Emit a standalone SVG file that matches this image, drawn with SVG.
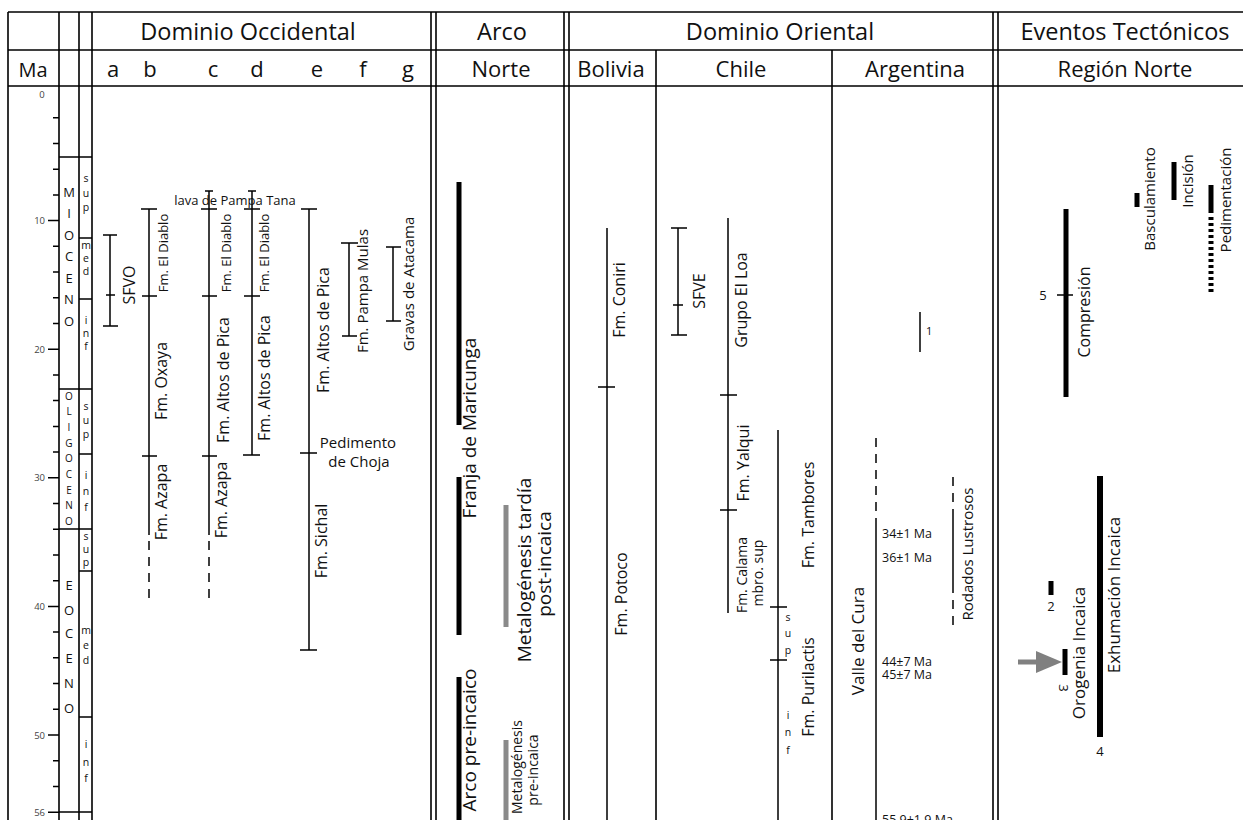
<svg xmlns="http://www.w3.org/2000/svg" width="1243" height="820" viewBox="0 0 1243 820">
<style>
text{font-family:"Open Sans","Liberation Sans",sans-serif;fill:#111}
.h{font-size:22px;text-anchor:middle}
.h1{font-size:23.5px;text-anchor:middle}
.ax{font-size:9.5px;fill:#444;text-anchor:end}
.ep{font-size:13px;text-anchor:middle}
.eps{font-size:10px;text-anchor:middle}
.se{font-size:10.5px;text-anchor:middle}
.r{text-anchor:middle}
.f16{font-size:16px}.f13{font-size:13px}.f15{font-size:15px}.f19{font-size:19px}.f17{font-size:17px}.f14{font-size:14px}.f12{font-size:12.5px}
.fr{stroke:#000;stroke-width:1.6;fill:none}
.ln{stroke:#000;stroke-width:1.5;fill:none}
.dash{stroke-dasharray:9 7}
.bar{stroke:#000;stroke-width:5;fill:none}
.gbar{stroke:#8a8a8a;stroke-width:5;fill:none}
</style>

<g id="frame">
<path class="fr" d="M8 12H1243M8 50H1243M8 86H1243"/>
<path class="fr" d="M8 12V820M59 12V820M79 12V820M92 12V820M431 12V820M436 12V820M564 12V820M569 12V820M993 12V820M998 12V820M656 50V820M832 50V820"/>
<path class="fr" d="M59 157H92M59 389H92M59 529H92M59 812H92M79 238H92M79 299H92M79 454H92M79 571H92M79 717H92"/>
</g>

<g id="headers">
<text class="h1" x="248" y="40">Dominio Occidental</text>
<text class="h1" x="502" y="40">Arco</text>
<text class="h1" x="780" y="40">Dominio Oriental</text>
<text class="h1" x="1125" y="40">Eventos Tectónicos</text>
<text class="h" x="33" y="77" style="font-size:20px">Ma</text>
<text class="h" x="113" y="77">a</text>
<text class="h" x="150" y="77">b</text>
<text class="h" x="213" y="77">c</text>
<text class="h" x="257" y="77">d</text>
<text class="h" x="317" y="77">e</text>
<text class="h" x="363" y="77">f</text>
<text class="h" x="408" y="77">g</text>
<text class="h" x="501" y="77">Norte</text>
<text class="h" x="611" y="77">Bolivia</text>
<text class="h" x="741" y="77">Chile</text>
<text class="h" x="915" y="77">Argentina</text>
<text class="h" x="1125" y="77">Región Norte</text>
</g>

<g id="axis">
<path class="ln" d="M53 117.7H59M53 143.4H59M53 169.2H59M53 194.9H59M48 220.6H59M53 246.3H59M53 272H59M53 297.8H59M53 323.5H59M48 349.2H59M53 374.9H59M53 400.6H59M53 426.4H59M53 452.1H59M48 477.8H59M53 503.5H59M53 529.2H59M53 555H59M53 580.7H59M48 606.4H59M53 632.1H59M53 657.8H59M53 683.6H59M53 709.3H59M48 735H59M53 760.7H59M53 786.4H59M48 812.2H59"/>
<text class="ax" x="42" y="98" style="text-anchor:middle">0</text>
<text class="ax" x="45" y="224">10</text>
<text class="ax" x="45" y="352.5">20</text>
<text class="ax" x="45" y="481">30</text>
<text class="ax" x="45" y="610">40</text>
<text class="ax" x="45" y="738.5">50</text>
<text class="ax" x="45" y="815.5">56</text>
</g>

<g id="epochs">
<text class="ep" x="69" y="197">M</text><text class="ep" x="69" y="218">I</text><text class="ep" x="69" y="240">O</text><text class="ep" x="69" y="261">C</text><text class="ep" x="69" y="283">E</text><text class="ep" x="69" y="304">N</text><text class="ep" x="69" y="326">O</text>
<text class="eps" x="69" y="400">O</text><text class="eps" x="69" y="415">L</text><text class="eps" x="69" y="431">I</text><text class="eps" x="69" y="447">G</text><text class="eps" x="69" y="462">O</text><text class="eps" x="69" y="478">C</text><text class="eps" x="69" y="494">E</text><text class="eps" x="69" y="509">N</text><text class="eps" x="69" y="525">O</text>
<text class="ep" x="69" y="590">E</text><text class="ep" x="69" y="615">O</text><text class="ep" x="69" y="638">C</text><text class="ep" x="69" y="663">E</text><text class="ep" x="69" y="688">N</text><text class="ep" x="69" y="713">O</text>
<text class="se" x="86" y="182">s</text><text class="se" x="86" y="197">u</text><text class="se" x="86" y="211">p</text>
<text class="se" x="86" y="249">m</text><text class="se" x="86" y="262">e</text><text class="se" x="86" y="275">d</text>
<text class="se" x="86" y="324">i</text><text class="se" x="86" y="337">n</text><text class="se" x="86" y="350">f</text>
<text class="se" x="86" y="410">s</text><text class="se" x="86" y="424">u</text><text class="se" x="86" y="438">p</text>
<text class="se" x="86" y="479">i</text><text class="se" x="86" y="495">n</text><text class="se" x="86" y="511">f</text>
<text class="se" x="86" y="540">s</text><text class="se" x="86" y="553">u</text><text class="se" x="86" y="566">p</text>
<text class="se" x="86" y="634">m</text><text class="se" x="86" y="649">e</text><text class="se" x="86" y="664">d</text>
<text class="se" x="86" y="748">i</text><text class="se" x="86" y="766">n</text><text class="se" x="86" y="782">f</text>
</g>

<g id="connectors">
<path class="ln" d="M110 235V326M103 235H117M103 326H118M106 295H115"/>
<path class="ln" d="M149 209V535M141 209H157M142 296H157M142 456H157"/>
<path class="ln dash" d="M149 541V603"/>
<path class="ln" d="M209 191V535M205 191H213M201 209H217M202 296H217M202 456H217"/>
<path class="ln dash" d="M209 541V603"/>
<path class="ln" d="M252 191V455M248 191H256M244 209H260M244 296H260M243 455H260"/>
<path class="ln" d="M309 209V650M301 209H317M300 453H317M300 650H317"/>
<path class="ln" d="M349 243V336M341 243H358M342 336H357"/>
<path class="ln" d="M393 247V321M386 247H401M386 321H401"/>
<path class="bar" d="M459 182V425M459 477V635M459 677V820"/>
<path class="gbar" d="M506 505V627M506 740V820"/>
<path class="ln" d="M607 228V820M598 387H615"/>
<path class="ln" d="M678 228V335M671 228H687M671 335H687M673 305H683"/>
<path class="ln" d="M728 218V613M720 395H737M720 510H737"/>
<path class="ln" d="M778 430V820M770 607H787M770 660H787"/>
<path class="ln" d="M920 312V352"/>
<path class="ln dash" d="M876 438V512"/>
<path class="ln" d="M876 518V820"/>
<path class="ln dash" d="M953 477V510M953 600V626"/>
<path class="ln" d="M953 510V593"/>
<path class="bar" d="M1066 209V397"/>
<path class="ln" d="M1057 295H1073"/>
<path class="bar" d="M1137 193V207M1174 162V200M1211 185V213M1051 581V595M1065 649V675"/>
<path class="bar" d="M1211 217V293" style="stroke-dasharray:3 3"/>
<path class="bar" d="M1100 476V737" style="stroke-width:6"/>
<path d="M1018 662H1040" stroke="#808080" stroke-width="5"/>
<path d="M1036 651L1062 662L1036 673Z" fill="#808080"/>
</g>

<g id="occidental-labels">
<text class="r f16" transform="translate(135,285) rotate(-90)">SFVO</text>
<text class="r f13" transform="translate(168,253) rotate(-90)">Fm. El Diablo</text>
<text class="r f16" transform="translate(167,381) rotate(-90)">Fm. Oxaya</text>
<text class="r f16" transform="translate(167,502) rotate(-90)">Fm. Azapa</text>
<text class="r f13" transform="translate(231,253) rotate(-90)">Fm. El Diablo</text>
<text class="r f16" transform="translate(229,380) rotate(-90)">Fm. Altos de Pica</text>
<text class="r f16" transform="translate(227,500) rotate(-90)">Fm. Azapa</text>
<text class="r f13" transform="translate(269,253) rotate(-90)">Fm. El Diablo</text>
<text class="r f16" transform="translate(270,378) rotate(-90)">Fm. Altos de Pica</text>
<text class="r f16" transform="translate(329,330) rotate(-90)">Fm. Altos de Pica</text>
<text class="r f16" transform="translate(327,541) rotate(-90)">Fm. Sichal</text>
<text class="r f15" transform="translate(368,291) rotate(-90)">Fm. Pampa Mulas</text>
<text class="r f15" transform="translate(414,284) rotate(-90)">Gravas de Atacama</text>
<text class="r f13" x="235" y="205">lava de Pampa Tana</text>
<text class="r f15" x="358" y="448">Pedimento</text>
<text class="r f15" x="359" y="467">de Choja</text>
</g>

<g id="arco-labels">
<text class="r f19" transform="translate(476,428) rotate(-90)">Franja de Maricunga</text>
<text class="r f19" transform="translate(531,570) rotate(-90)">Metalogénesis tardía</text>
<text class="r f19" transform="translate(551,564) rotate(-90)">post-incaica</text>
<text class="r f19" transform="translate(476,740) rotate(-90)">Arco pre-incaico</text>
<text class="r f14" transform="translate(522,767) rotate(-90)">Metalogénesis</text>
<text class="r f14" transform="translate(538,770) rotate(-90)">pre-incaica</text>
</g>

<g id="bolivia-labels">
<text class="r f16" transform="translate(625,300) rotate(-90)">Fm. Coniri</text>
<text class="r f16" transform="translate(627,594) rotate(-90)">Fm. Potoco</text>
</g>

<g id="chile-labels">
<text class="r f16" transform="translate(705,291) rotate(-90)">SFVE</text>
<text class="r f16" transform="translate(747,300) rotate(-90)">Grupo El Loa</text>
<text class="r f16" transform="translate(749,463) rotate(-90)">Fm. Yalqui</text>
<text class="r f14" transform="translate(747,575) rotate(-90)">Fm. Calama</text>
<text class="r f14" transform="translate(763,573) rotate(-90)">mbro. sup</text>
<text class="r f16" transform="translate(814,515) rotate(-90)">Fm. Tambores</text>
<text class="r f16" transform="translate(814,687) rotate(-90)">Fm. Purilactis</text>
<text class="se" x="788" y="621">s</text><text class="se" x="788" y="637">u</text><text class="se" x="788" y="654">p</text>
<text class="se" x="788" y="719">i</text><text class="se" x="788" y="736">n</text><text class="se" x="788" y="754">f</text>
</g>

<g id="argentina-labels">
<text x="926" y="335" style="font-size:11px">1</text>
<text class="r f17" transform="translate(864,641) rotate(-90)">Valle del Cura</text>
<text class="r f15" transform="translate(973,554) rotate(-90)">Rodados Lustrosos</text>
<text class="f12" x="882" y="538">34±1 Ma</text>
<text class="f12" x="882" y="562">36±1 Ma</text>
<text class="f12" x="882" y="666">44±7 Ma</text>
<text class="f12" x="882" y="679">45±7 Ma</text>
<text class="f12" x="882" y="824">55.9±1.9 Ma</text>
</g>

<g id="eventos-labels">
<text class="r f13" x="1043" y="300">5</text>
<text class="r f16" transform="translate(1090,312) rotate(-90)">Compresión</text>
<text class="r f15" transform="translate(1155,199) rotate(-90)">Basculamiento</text>
<text class="r f15" transform="translate(1193,181) rotate(-90)">Incisión</text>
<text class="r f15" transform="translate(1231,200) rotate(-90)">Pedimentación</text>
<text class="r f13" x="1051" y="611">2</text>
<text class="r f13" transform="translate(1059,688) rotate(90)">3</text>
<text class="r f17" transform="translate(1085,653) rotate(-90)">Orogenia Incaica</text>
<text class="r f17" transform="translate(1120,595) rotate(-90)">Exhumación Incaica</text>
<text class="r f13" x="1100" y="756">4</text>
</g>
</svg>
